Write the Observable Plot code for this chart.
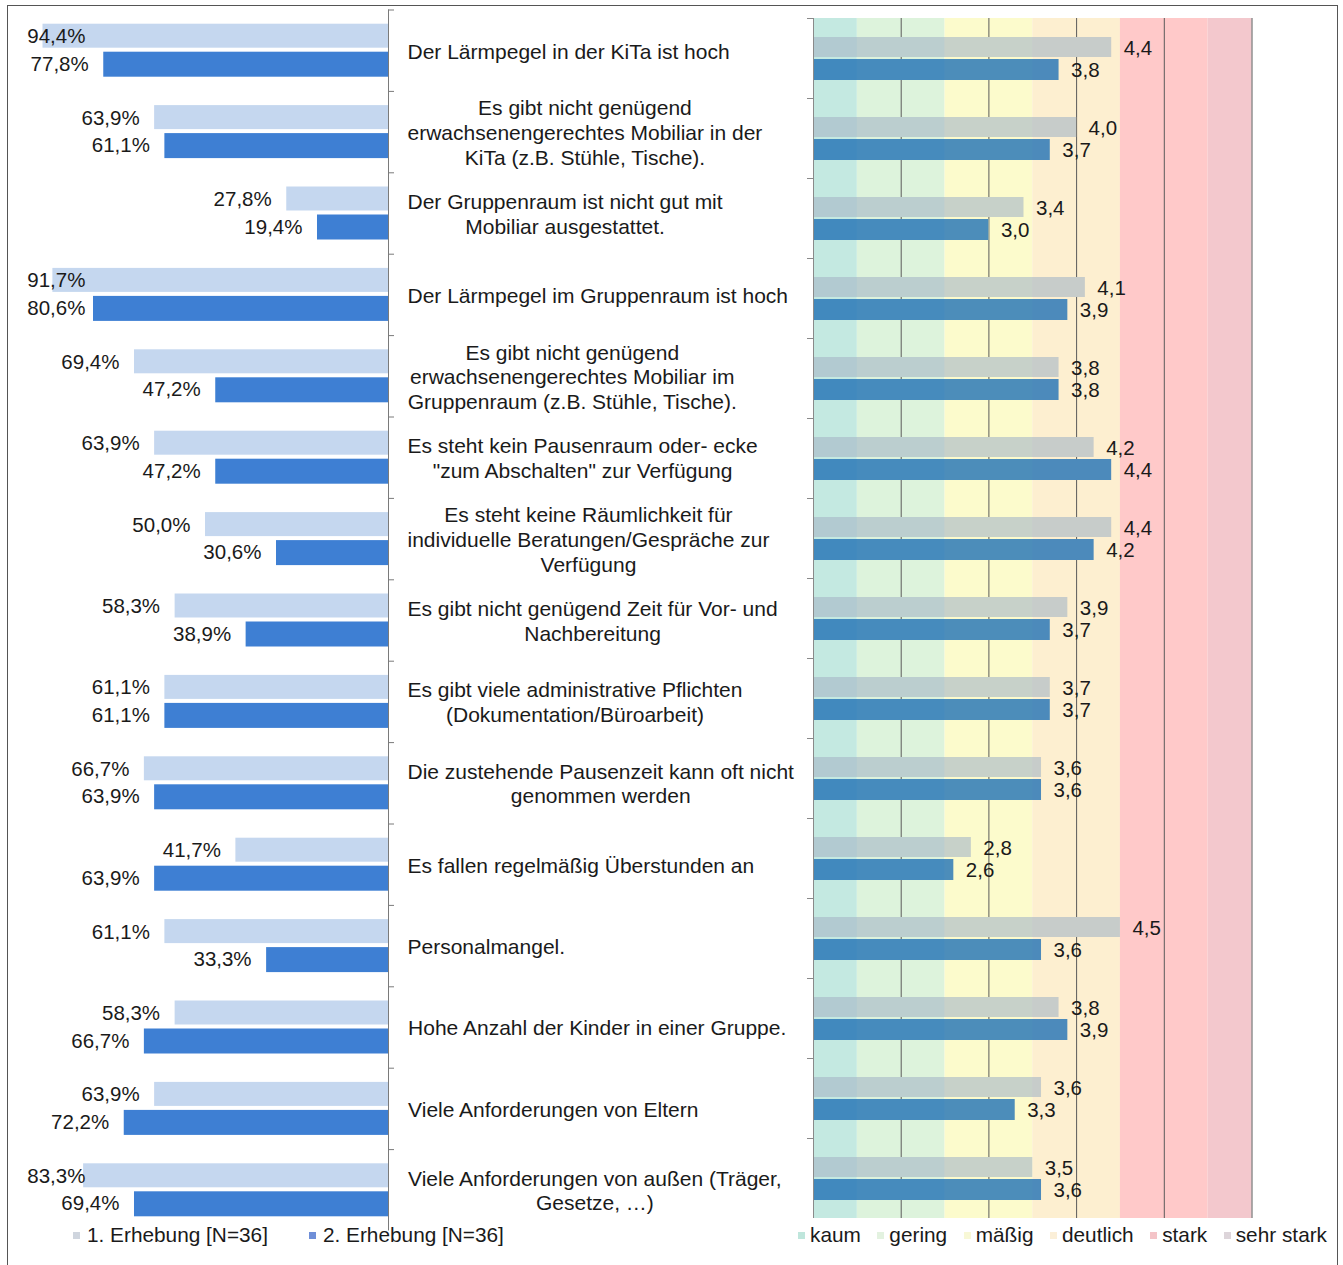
<!DOCTYPE html>
<html><head><meta charset="utf-8">
<script src="https://cdn.jsdelivr.net/npm/d3@7"></script>
<script src="https://cdn.jsdelivr.net/npm/@observablehq/plot@0.6"></script>
<style>
body{margin:0;background:#fff;}
#wrap{position:relative;width:1343px;height:1265px;overflow:hidden;font-family:"Liberation Sans",Arial,sans-serif;color:#1a1a1a;background:#fff;}
#frame{position:absolute;left:7px;top:5px;width:1331px;height:1300px;border:1.5px solid #555;box-sizing:border-box;}
.plot{position:absolute;top:0;}
.legend{position:absolute;top:1223px;display:flex;align-items:center;font-size:20.8px;white-space:nowrap;line-height:24px;}
.item{display:flex;align-items:center;}
.sw{display:inline-block;width:7px;height:7px;}
</style></head><body>
<div id="wrap"><div id="frame"></div></div>
<script>
// ---------- data ----------
const categories = [
  "Der Lärmpegel in der KiTa ist hoch",
  "Es gibt nicht genügend\nerwachsenengerechtes Mobiliar in der\nKiTa (z.B. Stühle, Tische).",
  "Der Gruppenraum ist nicht gut mit\nMobiliar ausgestattet.",
  "Der Lärmpegel im Gruppenraum ist hoch",
  "Es gibt nicht genügend\nerwachsenengerechtes Mobiliar im\nGruppenraum (z.B. Stühle, Tische).",
  "Es steht kein Pausenraum oder- ecke\n\"zum Abschalten\" zur Verfügung",
  "Es steht keine Räumlichkeit für\nindividuelle Beratungen/Gespräche zur\nVerfügung",
  "Es gibt nicht genügend Zeit für Vor- und\nNachbereitung",
  "Es gibt viele administrative Pflichten\n(Dokumentation/Büroarbeit)",
  "Die zustehende Pausenzeit kann oft nicht\ngenommen werden",
  "Es fallen regelmäßig Überstunden an",
  "Personalmangel.",
  "Hohe Anzahl der Kinder in einer Gruppe.",
  "Viele Anforderungen von Eltern",
  "Viele Anforderungen von außen (Träger,\nGesetze, …)"
];
const seriesNames = ["1. Erhebung [N=36]", "2. Erhebung [N=36]"];
const pct1 = [94.4, 63.9, 27.8, 91.7, 69.4, 63.9, 50.0, 58.3, 61.1, 66.7, 41.7, 61.1, 58.3, 63.9, 83.3];
const pct2 = [77.8, 61.1, 19.4, 80.6, 47.2, 47.2, 30.6, 38.9, 61.1, 63.9, 63.9, 33.3, 66.7, 72.2, 69.4];
const mean1 = [4.4, 4.0, 3.4, 4.1, 3.8, 4.2, 4.4, 3.9, 3.7, 3.6, 2.8, 4.5, 3.8, 3.6, 3.5];
const mean2 = [3.8, 3.7, 3.0, 3.9, 3.8, 4.4, 4.2, 3.7, 3.7, 3.6, 2.6, 3.6, 3.9, 3.3, 3.6];
const bandNames = ["kaum", "gering", "mäßig", "deutlich", "stark", "sehr stark"];
const bandStart = [1, 1.5, 2.5, 3.5, 4.5, 5.5];
const bandEnd   = [1.5, 2.5, 3.5, 4.5, 5.5, 6];
const gridTicks = [2, 3, 4, 5, 6];

// ---------- styles ----------
const FONT = '"Liberation Sans", Arial, sans-serif';
const FS = 20.5, FS_CAT = 21;
const bandColors = ["#c4e9e1", "#ddf3dc", "#fcfbcc", "#fdefd0", "#ffc9c9", "#f3c8cd"];
const legendBandColors = ["#bfe6dc", "#e3f2e0", "#f8f8d6", "#fbefd8", "#f4c4c8", "#ddd5da"];
const leftLight = "#c5d7ef", leftDark = "#3e7fd3";
const rightLight = "#a6b6c6", rightDark = "#2474b6";

const rows = categories.map((cat, i) => ({cat, p1: pct1[i], p2: pct2[i], m1: mean1[i], m2: mean2[i]}));
const fmtP = v => v.toFixed(1).replace(".", ",") + "%";
const fmtM = v => v.toFixed(1).replace(".", ",");

// measure label widths (for block-left, line-centred labels)
const ctx = document.createElement("canvas").getContext("2d");
ctx.font = `${FS_CAT}px "Liberation Sans", Arial, sans-serif`;
const blockWidth = s => Math.max(...s.split("\n").map(l => ctx.measureText(l).width));

const W = 1343, H = 1265;
const wrap = document.getElementById("wrap");

// ---------- left panel (percentages) + middle labels ----------
const topL = 9.5, botL = 1230.5, bandL = (botL - topL) / categories.length;
const leftPlot = Plot.plot({
  width: 800, height: H,
  marginLeft: 22, marginRight: 412, marginTop: topL, marginBottom: H - botL,
  x: {domain: [0, 100], reverse: true, axis: null},
  y: {domain: categories, padding: 0, round: false, axis: null},
  style: {fontFamily: FONT, fontSize: FS + "px", color: "#1a1a1a", background: "transparent", overflow: "visible"},
  marks: [
    Plot.barX(rows, {x: "p1", y: "cat", fill: leftLight, insetTop: 14.2, insetBottom: 43.2}),
    Plot.barX(rows, {x: "p2", y: "cat", fill: leftDark, insetTop: 42.2, insetBottom: 14.2}),
    Plot.ruleX([0], {stroke: "#7a7a7a", strokeWidth: 1}),
    Plot.ruleY(categories, {y: d => d, x1: 0, x2: 0, insetRight: -6, dy: -bandL / 2, stroke: "#7a7a7a"}),
    Plot.text(rows, {x: d => Math.min(d.p1 + 4.1, 82.8), y: "cat", text: d => fmtP(d.p1), textAnchor: "end", dy: -14, fill: "#1a1a1a"}),
    Plot.text(rows, {x: d => Math.min(d.p2 + 4.1, 82.8), y: "cat", text: d => fmtP(d.p2), textAnchor: "end", dy: 13.5, fill: "#1a1a1a"}),
    ...categories.map(c => Plot.text([c], {
      x: 0, y: d => d, text: d => d, textAnchor: "middle", lineHeight: 1.17,
      fontSize: FS_CAT, dx: 19 + blockWidth(c) / 2, fill: "#1a1a1a"
    }))
  ]
});
leftPlot.classList.add("plot");
leftPlot.style.left = "0px";
wrap.appendChild(leftPlot);

// ---------- right panel (ratings) ----------
const topR = 18, botR = 1218, bandR = (botR - topR) / categories.length;
const rightLeft = 790;
const bands = bandNames.map((n, i) => ({n, s: bandStart[i], e: bandEnd[i]}));
// band-coloured underlay clipped to each bar (hides the grid behind the translucent bars)
const underlay = [];
rows.forEach(r => ["m1", "m2"].forEach(k => bands.forEach(b => {
  if (b.s < r[k]) underlay.push({cat: r.cat, k, n: b.n, s: b.s, e: Math.min(b.e, r[k])});
})));
const rightPlot = Plot.plot({
  width: W - rightLeft, height: H,
  marginLeft: 813 - rightLeft, marginRight: W - 1251.5, marginTop: topR, marginBottom: H - botR,
  x: {domain: [1, 6], axis: null},
  y: {domain: categories, padding: 0, round: false, axis: null},
  color: {domain: bandNames, range: bandColors},
  style: {fontFamily: FONT, fontSize: FS + "px", color: "#1a1a1a", background: "transparent", overflow: "visible"},
  marks: [
    Plot.rectX(bands, {x1: "s", x2: "e", fill: "n"}),
    Plot.ruleX(gridTicks, {stroke: "#5a5a5a", strokeWidth: 1}),
    Plot.barX(underlay.filter(d => d.k === "m1"), {x1: "s", x2: "e", y: "cat", fill: "n", insetTop: 19, insetBottom: 41}),
    Plot.barX(underlay.filter(d => d.k === "m2"), {x1: "s", x2: "e", y: "cat", fill: "n", insetTop: 41, insetBottom: 18}),
    Plot.barX(rows, {x1: 1, x2: "m1", y: "cat", fill: rightLight, fillOpacity: 0.62, insetTop: 19, insetBottom: 41}),
    Plot.barX(rows, {x1: 1, x2: "m2", y: "cat", fill: rightDark, fillOpacity: 0.82, insetTop: 41, insetBottom: 18}),
    Plot.ruleX([1], {stroke: "#8a8a8a"}),
    Plot.ruleY(categories, {y: d => d, x1: 1, x2: 1, insetLeft: -6, dy: -bandR / 2, stroke: "#8a8a8a"}),
    Plot.text(rows, {x: "m1", y: "cat", text: d => fmtM(d.m1), textAnchor: "start", dx: 12, dy: -10, fill: "#1a1a1a"}),
    Plot.text(rows, {x: "m2", y: "cat", text: d => fmtM(d.m2), textAnchor: "start", dx: 12, dy: 12, fill: "#1a1a1a"})
  ]
});
rightPlot.classList.add("plot");
rightPlot.style.left = rightLeft + "px";
wrap.appendChild(rightPlot);

// ---------- legends ----------
function legend(items, colors, left, gap, swGap) {
  const div = document.createElement("div");
  div.className = "legend";
  div.style.left = left + "px";
  items.forEach((t, i) => {
    const it = document.createElement("span");
    it.className = "item";
    if (i < items.length - 1) it.style.marginRight = gap + "px";
    const sw = document.createElement("span");
    sw.className = "sw";
    sw.style.background = colors[i];
    sw.style.marginRight = swGap + "px";
    it.appendChild(sw);
    it.appendChild(document.createTextNode(t));
    div.appendChild(it);
  });
  wrap.appendChild(div);
}
legend(seriesNames, ["#cfd5de", "#6f8fd8"], 73, 41, 7);
legend(bandNames, legendBandColors, 798, 16.5, 5);
</script>
</body></html>
